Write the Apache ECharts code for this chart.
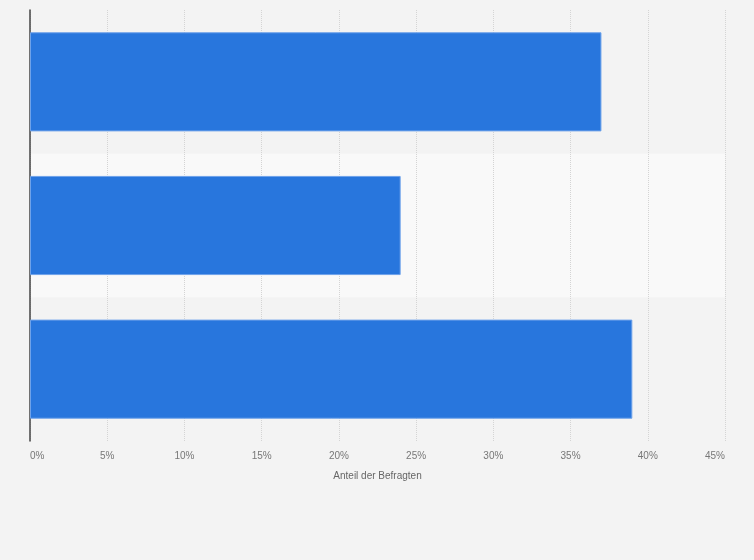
<!DOCTYPE html>
<html>
  <head>
    <meta charset="utf-8">
    <title>ECharts</title>
    <script src="https://cdn.jsdelivr.net/npm/echarts@6/dist/echarts.min.js"></script>
  </head>
  <body style="margin:0;background:#f3f3f3;">
    <div id="main" style="width:754px;height:560px;"></div>
    <script type="text/javascript">
      // categories top to bottom (labels are not shown in the chart)
      var categories = ['Gruppe 1', 'Gruppe 2', 'Gruppe 3'];
      // share of respondents in percent
      var values = [37, 24, 39];

      var myChart = echarts.init(document.getElementById('main'));
      var option = {
        backgroundColor: '#f3f3f3',
        animation: false,
        grid: {
          left: 30,
          right: 29,
          top: 10,
          bottom: 119
        },
        xAxis: {
          type: 'value',
          min: 0,
          max: 45,
          interval: 5,
          name: 'Anteil der Befragten',
          nameLocation: 'middle',
          nameGap: 30,
          nameTextStyle: {
            color: '#666',
            fontSize: 10,
            fontFamily: 'Liberation Sans, Arial, sans-serif'
          },
          axisLine: { show: false },
          axisTick: { show: false },
          axisLabel: {
            formatter: '{value}%',
            color: '#777',
            fontSize: 10,
            margin: 10,
            fontFamily: 'Liberation Sans, Arial, sans-serif',
            alignMinLabel: 'left',
            alignMaxLabel: 'right'
          },
          splitLine: {
            lineStyle: {
              color: '#d4d4d4',
              type: 'dotted'
            }
          }
        },
        yAxis: {
          type: 'category',
          inverse: true,
          data: categories,
          axisLine: {
            show: true,
            lineStyle: { color: '#444', width: 1.5 }
          },
          axisTick: { show: false },
          axisLabel: { show: false },
          splitArea: {
            show: true,
            areaStyle: {
              color: ['rgba(0,0,0,0)', '#f9f9f9']
            }
          }
        },
        series: [{
          type: 'bar',
          data: values,
          barCategoryGap: '31%',
          itemStyle: {
            color: '#2876dd',
            borderColor: '#6ea2ea',
            borderWidth: 1
          }
        }]
      };
      myChart.setOption(option);
    </script>
  </body>
</html>
